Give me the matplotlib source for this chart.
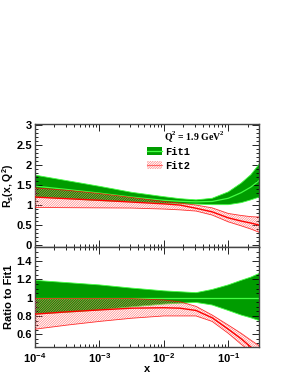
import numpy as np
import matplotlib
matplotlib.use("Agg")
import matplotlib.pyplot as plt
from matplotlib.patches import Patch
from matplotlib.lines import Line2D
from matplotlib.ticker import MultipleLocator, LogLocator, NullFormatter

# ---- data ----
x = [1e-4, 10**-3.5, 1e-3, 10**-2.5, 1e-2, 10**-1.75, 10**-1.5, 10**-1.25, 1e-1, 10**-0.8, 10**-0.65, 0.3]

# top panel: R_s(x, Q^2)
fit1_up  = [1.75, 1.61, 1.47, 1.32, 1.21, 1.16, 1.13, 1.17, 1.33, 1.55, 1.76, 2.02]
fit1_cen = [1.475, 1.39, 1.30, 1.20, 1.12, 1.095, 1.08, 1.09, 1.17, 1.31, 1.45, 1.61]
fit1_lo  = [1.20, 1.16, 1.11, 1.08, 1.04, 1.03, 1.025, 1.01, 1.01, 1.06, 1.13, 1.20]
fit2_up  = [1.43, 1.37, 1.29, 1.19, 1.09, 1.05, 1.00, 0.93, 0.79, 0.74, 0.71, 0.70]
fit2_cen = [1.20, 1.16, 1.12, 1.075, 1.03, 1.00, 0.92, 0.83, 0.68, 0.60, 0.55, 0.50]
fit2_lo  = [0.94, 0.935, 0.93, 0.925, 0.90, 0.88, 0.85, 0.75, 0.58, 0.48, 0.40, 0.32]

# bottom panel: ratio to Fit1
r1_up  = [1.19, 1.165, 1.14, 1.105, 1.075, 1.065, 1.055, 1.09, 1.14, 1.19, 1.225, 1.265]
r1_cen = [1.0] * 12
r1_lo  = [0.82, 0.84, 0.865, 0.90, 0.93, 0.94, 0.948, 0.92, 0.86, 0.81, 0.78, 0.75]
r2_up  = [0.99, 0.99, 0.99, 0.99, 0.975, 0.955, 0.905, 0.81, 0.70, 0.61, 0.535, 0.475]
r2_cen = [0.82, 0.845, 0.866, 0.885, 0.89, 0.885, 0.86, 0.78, 0.655, 0.55, 0.46, 0.38]
r2_lo  = [0.655, 0.70, 0.74, 0.775, 0.80, 0.80, 0.80, 0.74, 0.61, 0.49, 0.41, 0.33]

xticks = [1e-4, 1e-3, 1e-2, 1e-1]
xticklabels = [r"$\mathbf{10^{-4}}$", r"$\mathbf{10^{-3}}$", r"$\mathbf{10^{-2}}$", r"$\mathbf{10^{-1}}$"]

# ---- style ----
G_FILL = "#009c00"
G_LINE = "#44ff44"
R_HATCH = "#ff6a6a"
R_LINE = "#ff0000"
HATCH = "//////////////"
FRAME = "#444444"
plt.rcParams["font.family"] = ["Liberation Sans", "DejaVu Sans"]
plt.rcParams["font.weight"] = "bold"
plt.rcParams["mathtext.fontset"] = "custom"
plt.rcParams["mathtext.rm"] = "Liberation Sans:bold"
plt.rcParams["mathtext.bf"] = "Liberation Sans:bold"
plt.rcParams["hatch.linewidth"] = 0.4

W, H = 298, 385
fig = plt.figure(figsize=(W / 100, H / 100), dpi=100)
L, R = 35 / W, 259 / W
ax1 = fig.add_axes([L, 1 - 247 / H, R - L, 123 / H])
ax2 = fig.add_axes([L, 1 - 347 / H, R - L, 100 / H])


def draw(ax, gu, gc, gl, ru, rc, rl):
    ax.fill_between(x, gl, gu, facecolor=G_FILL, edgecolor="none", linewidth=0, zorder=1)
    ax.plot(x, gu, color=G_LINE, lw=0.6, zorder=2)
    ax.plot(x, gl, color=G_LINE, lw=0.6, zorder=2)
    ax.plot(x, gc, color=G_LINE, lw=0.9, zorder=2)
    ax.fill_between(x, rl, ru, facecolor="none", edgecolor=R_HATCH, hatch=HATCH, linewidth=0, zorder=3)
    ax.plot(x, ru, color=R_LINE, lw=0.6, alpha=0.8, zorder=4)
    ax.plot(x, rl, color=R_LINE, lw=0.6, alpha=0.8, zorder=4)
    ax.plot(x, rc, color=R_LINE, lw=1.0, zorder=4)


def style(ax):
    ax.set_xscale("log")
    ax.set_xlim(1e-4, 0.3)
    ax.xaxis.set_major_locator(LogLocator(base=10, numticks=10))
    ax.xaxis.set_minor_locator(LogLocator(base=10, subs=np.arange(2, 10), numticks=10))
    ax.xaxis.set_minor_formatter(NullFormatter())
    ax.tick_params(which="both", direction="in", top=True, right=True, colors="black", labelsize=8, width=0.6)
    ax.tick_params(which="major", length=5)
    ax.tick_params(which="minor", length=2.5)
    ax.tick_params(axis="y", pad=2)
    for s in ax.spines.values():
        s.set_color(FRAME)
        s.set_linewidth(1.0)


draw(ax1, fit1_up, fit1_cen, fit1_lo, fit2_up, fit2_cen, fit2_lo)
style(ax1)
ax1.set_ylim(-0.05, 3.03)
ax1.yaxis.set_minor_locator(MultipleLocator(0.1))
ax1.set_yticks([0, 0.5, 1, 1.5, 2, 2.5, 3])
ax1.set_yticklabels(["0", "0.5", "1", "1.5", "2", "2.5", "3"])
ax1.tick_params(axis="x", labelbottom=False)
ax1.set_ylabel(r"R$_\mathregular{s}$(x, Q$^\mathregular{2}$)", fontsize=7.5, fontweight="bold")
ax1.yaxis.set_label_coords(-0.085, 0.5)

draw(ax2, r1_up, r1_cen, r1_lo, r2_up, r2_cen, r2_lo)
style(ax2)
ax2.set_ylim(0.46, 1.555)
ax2.set_yticks([0.6, 0.8, 1.0, 1.2, 1.4])
ax2.set_yticklabels(["0.6", "0.8", "1", "1.2", "1.4"])
ax2.yaxis.set_minor_locator(MultipleLocator(0.05))
ax2.set_xticks(xticks)
ax2.set_xticklabels(xticklabels)
ax2.tick_params(axis="x", pad=3)
ax2.set_ylabel("Ratio to Fit1", fontsize=8, fontweight="bold")
ax2.yaxis.set_label_coords(-0.093, 0.5)
ax2.set_xlabel("x", fontsize=8, fontweight="bold")
ax2.xaxis.set_label_coords(0.5, -0.17)

# Q^2 label and legend
fig.text(194 / W, 1 - 137 / H, r"Q$^\mathregular{2}$ = 1.9 GeV$^\mathregular{2}$",
         family="Liberation Serif", fontweight="bold", fontsize=7, ha="center", va="center")

h1 = (Patch(facecolor=G_FILL, edgecolor="none"), Line2D([], [], color=G_LINE, lw=0.9))
h2 = (Patch(facecolor="white", edgecolor=R_HATCH, hatch=HATCH, linewidth=0), Line2D([], [], color=R_LINE, lw=0.8, alpha=0.5))
leg = fig.legend([h1, h2], ["Fit1", "Fit2"], loc="upper left",
                 bbox_to_anchor=(147 / W, 1 - 147 / H), frameon=False,
                 prop={"family": "Liberation Mono", "weight": "bold", "size": 7.5},
                 handlelength=1.45, handleheight=0.8, handletextpad=0.25,
                 labelspacing=0.35, borderpad=0, borderaxespad=0)

fig.savefig("out.png", dpi=100)
